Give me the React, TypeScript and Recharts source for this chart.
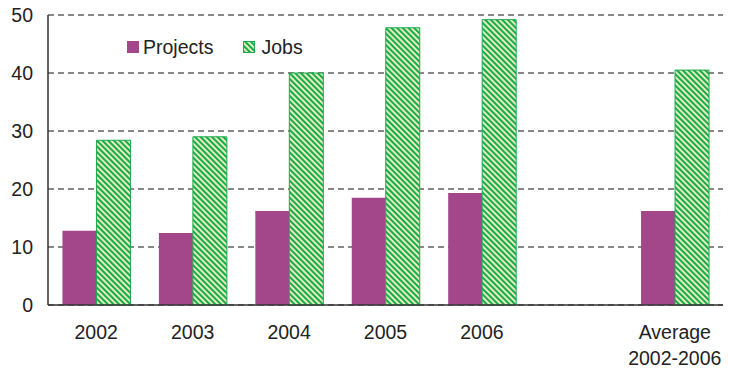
import { BarChart, Bar, XAxis, YAxis, CartesianGrid } from "recharts";

const categories = ["2002", "2003", "2004", "2005", "2006", "", "Average\n2002-2006"];
const projects = [12.8, 12.4, 16.2, 18.5, 19.3, null, 16.2];
const jobs = [28.4, 29.0, 40.0, 47.8, 49.2, null, 40.5];
const yTicks = [0, 10, 20, 30, 40, 50];

const PURPLE = "#A4478A";
const GREEN = "#1BAA4E";
const PALE = "#F6F4C6";
const FONT = "'Liberation Sans', Arial, sans-serif";
const FS = 19.5;

const data = categories.map((c, i) => ({ name: c, projects: projects[i], jobs: jobs[i] }));

// ─── X tick with line breaks ────────────────────────────────────────────────

function XTick({ x, y, payload }: any) {
  const lines = String(payload.value).split("\n");
  return (
    <text x={x} y={y} textAnchor="middle" fill="#222" fontSize={FS} fontFamily={FONT}>
      {lines.map((l, i) => (
        <tspan key={i} x={x} dy={i === 0 ? 26 : 26}>
          {l}
        </tspan>
      ))}
    </text>
  );
}

// ─── Legend (overlay) ───────────────────────────────────────────────────────

function LegendBox() {
  const text = { fontFamily: FONT, fontSize: FS, color: "#222", lineHeight: "12px" };
  return (
    <div style={{ position: "absolute", left: 127, top: 41, height: 12, display: "flex", alignItems: "center" }}>
      <svg width={12} height={12} style={{ marginRight: 4, display: "block" }}>
        <rect width={12} height={12} fill={PURPLE} />
      </svg>
      <span style={{ ...text, marginRight: 30 }}>Projects</span>
      <svg width={12} height={12} style={{ marginRight: 6, display: "block" }}>
        <defs>
          <pattern id="legStripes" patternUnits="userSpaceOnUse" width={4} height={4} patternTransform="rotate(-45)">
            <rect width={4} height={4} fill={PALE} />
            <rect width={2.2} height={4} fill={GREEN} />
          </pattern>
        </defs>
        <rect x={0.5} y={0.5} width={11} height={11} fill="url(#legStripes)" stroke={GREEN} />
      </svg>
      <span style={text}>Jobs</span>
    </div>
  );
}

export default function App() {
  return (
    <div style={{ position: "absolute", left: 0, top: 0, width: 730, height: 371, background: "#fff" }}>
      <BarChart
        width={730}
        height={371}
        data={data}
        margin={{ top: 15, right: 7, left: 0, bottom: 0 }}
        barCategoryGap="15%"
        barGap={0}
      >
        <defs>
          <pattern id="stripes" patternUnits="userSpaceOnUse" width={4} height={4} patternTransform="rotate(-45)">
            <rect width={4} height={4} fill={PALE} />
            <rect width={2.2} height={4} fill={GREEN} />
          </pattern>
        </defs>
        <CartesianGrid yAxisId="left" vertical={false} stroke="#111" strokeDasharray="6 4" />
        <XAxis
          dataKey="name"
          tick={<XTick />}
          tickLine={false}
          axisLine={{ stroke: "#333", strokeWidth: 1.5 }}
          interval={0}
          height={66}
        />
        <YAxis
          yAxisId="left"
          domain={[0, 50]}
          ticks={yTicks}
          width={48}
          tickLine={false}
          axisLine={{ stroke: "#333", strokeWidth: 1.5 }}
          tick={{ fill: "#222", fontSize: FS, fontFamily: FONT }}
          tickMargin={9}
        />
        <YAxis
          yAxisId="right"
          orientation="right"
          domain={[0, 50]}
          width={0}
          tick={false}
          tickLine={false}
          axisLine={{ stroke: "#333", strokeWidth: 1.5 }}
        />
        <Bar yAxisId="left" dataKey="projects" fill={PURPLE} isAnimationActive={false} />
        <Bar
          yAxisId="left"
          dataKey="jobs"
          fill="url(#stripes)"
          stroke={GREEN}
          strokeWidth={1}
          isAnimationActive={false}
        />
      </BarChart>
      <LegendBox />
    </div>
  );
}
